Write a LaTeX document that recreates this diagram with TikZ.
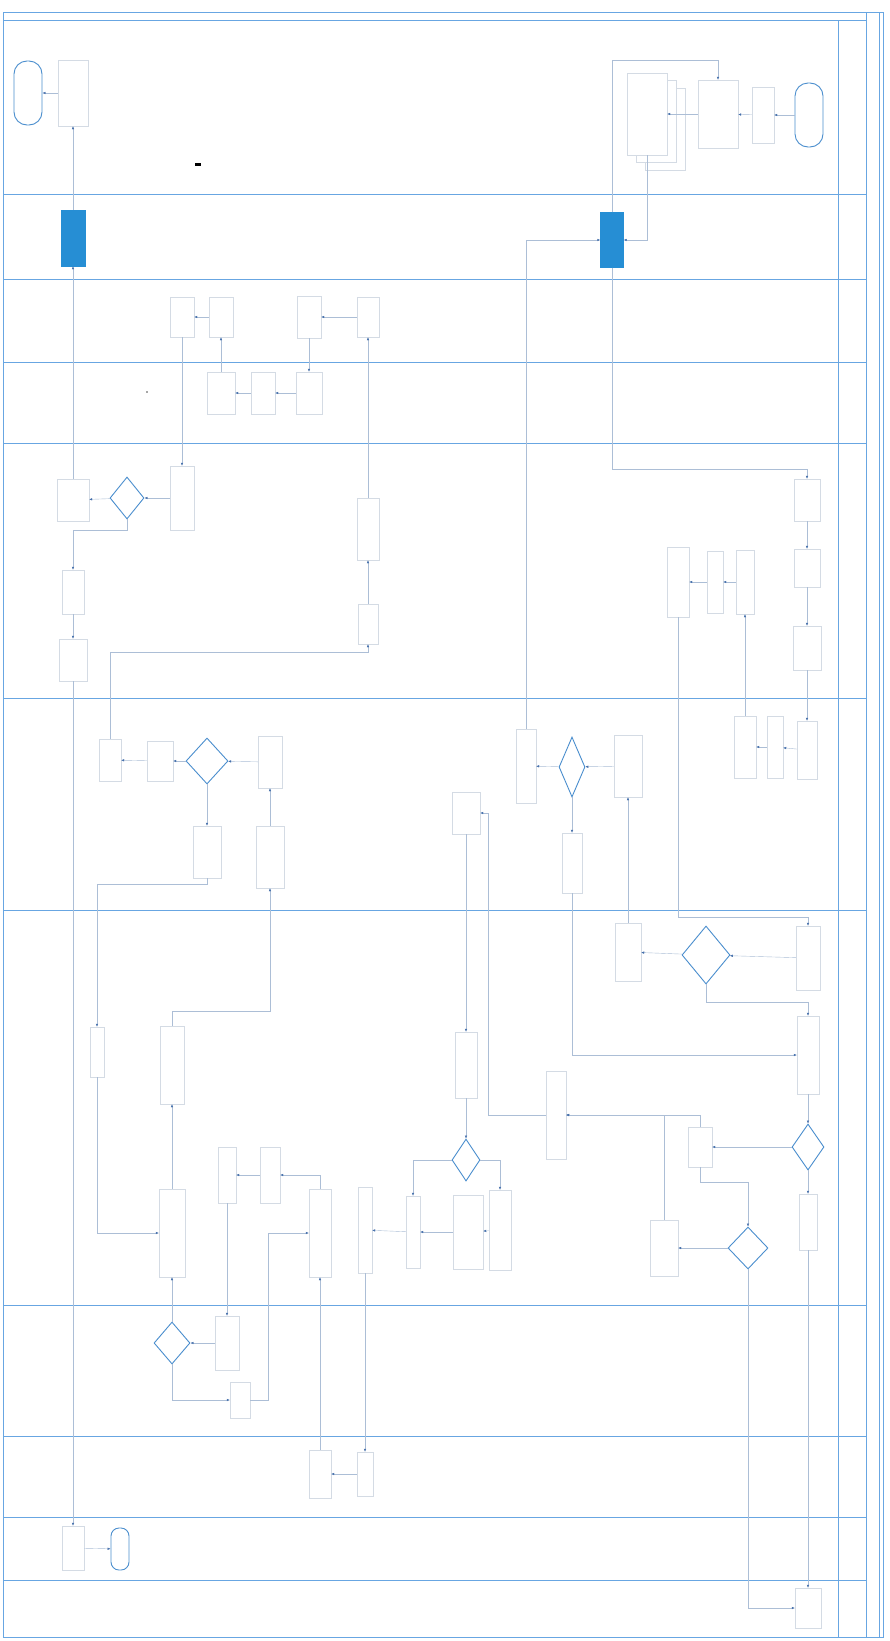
\documentclass[tikz,border=0pt]{standalone}
\usepackage{xcolor}
\usepackage{tikz}
\usetikzlibrary{shapes,arrows.meta,positioning,shadows}

\definecolor{lanebl}{RGB}{104,166,226}
\definecolor{linebl}{RGB}{172,190,214}
\definecolor{boxgr}{RGB}{212,219,228}
\definecolor{decbl}{RGB}{74,142,206}
\definecolor{fillbl}{RGB}{38,142,212}
\definecolor{tipbl}{RGB}{70,112,172}

\begin{document}
\begin{tikzpicture}[
    x=1pt, y=-1pt,
    box/.style={rectangle, draw=boxgr, line width=0.4pt, inner sep=0pt},
    bx/.style 2 args={box, minimum width=#1pt, minimum height=#2pt},
    dec/.style 2 args={diamond, draw=decbl, line width=0.9pt, inner sep=0pt, minimum width=#1pt, minimum height=#2pt},
    term/.style 2 args={rectangle, draw=decbl, line width=0.9pt, inner sep=0pt, minimum width=#1pt, minimum height=#2pt},
    blu/.style 2 args={rectangle, fill=fillbl, draw=fillbl, inner sep=0pt, minimum width=#1pt, minimum height=#2pt},
    link/.style={draw=linebl, line width=0.4pt, -{Latex[length=3pt,width=2.5pt,color=tipbl]}},
    lane/.style={draw=lanebl, line width=0.9pt}
]
    \useasboundingbox (0,0) rectangle (890,1641);
    \fill[white] (0,0) rectangle (890,1641);

    % frame and lanes
    \draw[lane] (3,12) rectangle (883,1637);
    \draw[lane] (3,20) -- (866,20);
    \draw[lane] (838,20) -- (838,1637);
    \draw[lane] (866,12) -- (866,1637);
    \draw[lanebl, line width=0.5pt] (879,12) -- (879,1637);
    \foreach \ly in {194,279,362,443,698,910,1305,1436,1517,1580}
        \draw[lane] (3,\ly) -- (866,\ly);

    % lane 1
    \node[term={28}{64}, rounded corners=13pt] (fin1) at (28,93) {};
    \node[bx={30}{66}] (fbox) at (73,93) {};
    \node[term={28}{64}, rounded corners=13pt] (inicio) at (809,115) {};
    \node[bx={22}{56}] (bB) at (763,115) {};
    \node[bx={40}{68}] (bA) at (718,114) {};
    \node[bx={40}{82}, fill=white, double copy shadow={shadow xshift=9pt, shadow yshift=-7.5pt, draw=boxgr, fill=white}] (doc) at (647,114) {};
    % lane 2
    \node[blu={24}{56}] (blue1) at (73,238) {};
    \node[blu={23}{55}] (blue2) at (612,240) {};
    % lane 3
    \node[bx={24}{40}] (n3a) at (182,317) {};
    \node[bx={24}{40}] (n3b) at (221,317) {};
    \node[bx={24}{42}] (n3c) at (309,317) {};
    \node[bx={22}{40}] (n3d) at (368,317) {};
    % lane 4
    \node[bx={28}{42}] (n4a) at (221,393) {};
    \node[bx={24}{42}] (n4b) at (263,393) {};
    \node[bx={26}{42}] (n4c) at (309,393) {};
    % lane 5
    \node[dec={34}{42}] (d5) at (127,498) {};
    \node[bx={24}{64}] (n5a) at (182,498) {};
    \node[bx={32}{42}] (n5b) at (73,500) {};
    \node[bx={22}{44}] (n5c) at (73,592) {};
    \node[bx={28}{42}] (n5d) at (73,660) {};
    \node[bx={22}{62}] (n5e) at (368,529) {};
    \node[bx={20}{40}] (n5f) at (368,624) {};
    \node[bx={26}{42}] (n5g) at (807,500) {};
    \node[bx={26}{38}] (n5h) at (807,568) {};
    \node[bx={28}{44}] (n5i) at (807,648) {};
    \node[bx={18}{64}] (n5j) at (745,582) {};
    \node[bx={16}{62}] (n5k) at (715,582) {};
    \node[bx={22}{70}] (n5l) at (678,582) {};
    % lane 6
    \node[bx={22}{42}] (n6a) at (110,760) {};
    \node[bx={26}{40}] (n6b) at (160,761) {};
    \node[dec={42}{46}] (d6a) at (207,761) {};
    \node[bx={24}{52}] (n6c) at (270,762) {};
    \node[bx={28}{52}] (n6d) at (207,852) {};
    \node[bx={28}{62}] (n6e) at (270,857) {};
    \node[bx={20}{74}] (n6f) at (526,766) {};
    \node[dec={26}{60}] (d6b) at (572,767) {};
    \node[bx={28}{62}] (n6g) at (628,766) {};
    \node[bx={28}{42}] (n6h) at (466,813) {};
    \node[bx={20}{60}] (n6i) at (572,863) {};
    \node[bx={22}{62}] (n6j) at (745,747) {};
    \node[bx={16}{62}] (n6k) at (775,747) {};
    \node[bx={20}{58}] (n6l) at (807,750) {};
    % lane 7
    \node[bx={14}{50}] (n7a) at (97,1052) {};
    \node[bx={24}{78}] (n7b) at (172,1065) {};
    \node[bx={26}{88}] (n7c) at (172,1233) {};
    \node[bx={18}{56}] (n7d) at (227,1175) {};
    \node[bx={20}{56}] (n7e) at (270,1175) {};
    \node[bx={22}{88}] (n7f) at (320,1233) {};
    \node[bx={14}{86}] (n7g) at (365,1230) {};
    \node[bx={14}{72}] (n7h) at (413,1232) {};
    \node[bx={30}{74}] (n7i) at (468,1232) {};
    \node[bx={22}{80}] (n7j) at (500,1230) {};
    \node[dec={28}{42}] (d7a) at (466,1160) {};
    \node[bx={22}{66}] (n7k) at (466,1065) {};
    \node[bx={20}{88}] (n7l) at (556,1115) {};
    \node[bx={26}{58}] (n7m) at (628,952) {};
    \node[dec={48}{58}] (d7b) at (706,955) {};
    \node[bx={24}{64}] (n7n) at (808,958) {};
    \node[bx={22}{78}] (n7o) at (808,1055) {};
    \node[dec={32}{46}] (d7c) at (808,1147) {};
    \node[bx={24}{40}] (n7p) at (700,1147) {};
    \node[bx={18}{56}] (n7q) at (808,1222) {};
    \node[dec={40}{42}] (d7d) at (748,1248) {};
    \node[bx={28}{56}] (n7r) at (664,1248) {};
    % lane 8
    \node[dec={36}{42}] (d8) at (172,1343) {};
    \node[bx={24}{54}] (n8a) at (227,1343) {};
    \node[bx={20}{36}] (n8b) at (240,1400) {};
    % lane 9
    \node[bx={22}{48}] (n9a) at (320,1474) {};
    \node[bx={16}{44}] (n9b) at (365,1474) {};
    % lane 10 and 11
    \node[bx={22}{44}] (n10) at (73,1548) {};
    \node[term={18}{42}, rounded corners=8pt] (fin2) at (120,1549) {};
    \node[bx={26}{40}] (n11) at (808,1608) {};

    % scan marks
    \fill[black] (195,163) rectangle (201,165.5);
    \fill[black!70] (147,392) circle (0.8);

    % connectors, left part
    \draw[link] (fbox) -- (fin1);
    \draw[link] (blue1) -- (fbox);
    \draw[link] (n5b) -- (blue1);
    \draw[link] (d5) -- (n5b);
    \draw[link] (n5a) -- (d5);
    \draw[link] (d5.south) -- ++(0,11) -| (n5c.north);
    \draw[link] (n5c) -- (n5d);
    \draw[link] (n5d) -- (n10);
    \draw[link] (n10) -- (fin2);
    \draw[link] (n3a) -- (n5a);
    \draw[link] (n3b) -- (n3a);
    \draw[link] (n4a) -- (n3b);
    \draw[link] (n4b) -- (n4a);
    \draw[link] (n4c) -- (n4b);
    \draw[link] (n3c) -- (n4c);
    \draw[link] (n3d) -- (n3c);
    \draw[link] (n5e) -- (n3d);
    \draw[link] (n5f) -- (n5e);
    \draw[link] (n6a.north) -- ++(0,-87) -| (n5f.south);
    \draw[link] (n6b) -- (n6a);
    \draw[link] (d6a) -- (n6b);
    \draw[link] (n6c) -- (d6a);
    \draw[link] (n6e) -- (n6c);
    \draw[link] (n7b.north) -- ++(0,-15) -| (n6e.south);
    \draw[link] (d6a) -- (n6d);
    \draw[link] (n6d.south) -- ++(0,6) -| (n7a.north);
    \draw[link] (n7a.south) |- (n7c.west);
    \draw[link] (n7c) -- (n7b);
    \draw[link] (d8) -- (n7c);
    \draw[link] (n8a) -- (d8);
    \draw[link] (n7d) -- (n8a);
    \draw[link] (n7e) -- (n7d);
    \draw[link] (n7f.north) |- (n7e.east);
    \draw[link] (d8.south) |- (n8b.west);
    \draw[link] (n8b.east) -- ++(18,0) |- (n7f.west);
    \draw[link] (n9a) -- (n7f);
    \draw[link] (n7g) -- (n9b);
    \draw[link] (n9b) -- (n9a);
    \draw[link] (n7h) -- (n7g);
    \draw[link] (n7i) -- (n7h);
    \draw[link] (n7j) -- (n7i);
    \draw[link] (d7a.west) -| (n7h.north);
    \draw[link] (d7a.east) -| (n7j.north);
    \draw[link] (n7k) -- (d7a);
    \draw[link] (n6h) -- (n7k);
    \draw[link] (n7l.west) -- ++(-58,0) |- (n6h.east);

    % connectors, right part
    \draw[link] (inicio) -- (bB);
    \draw[link] (bB) -- (bA);
    \draw[link] (bA) -- (doc);
    \draw[link] (doc.south) |- (blue2.east);
    \draw[link] (n6f.north) |- (blue2.west);
    \draw[link] (blue2.north) -- ++(0,-152) -| (bA.north);
    \draw[link] (blue2.south) -- ++(0,201) -| (n5g.north);
    \draw[link] (n5g) -- (n5h);
    \draw[link] (n5h) -- (n5i);
    \draw[link] (n5i) -- (n6l);
    \draw[link] (n6l) -- (n6k);
    \draw[link] (n6k) -- (n6j);
    \draw[link] (n6j) -- (n5j);
    \draw[link] (n5j) -- (n5k);
    \draw[link] (n5k) -- (n5l);
    \draw[link] (n5l.south) -- ++(0,300) -| (n7n.north);
    \draw[link] (d6b) -- (n6f);
    \draw[link] (n6g) -- (d6b);
    \draw[link] (n7m) -- (n6g);
    \draw[link] (d6b) -- (n6i);
    \draw[link] (n6i.south) |- (n7o.west);
    \draw[link] (n7n) -- (d7b);
    \draw[link] (d7b) -- (n7m);
    \draw[link] (d7b.south) -- ++(0,18) -| (n7o.north);
    \draw[link] (n7o) -- (d7c);
    \draw[link] (d7c) -- (n7p);
    \draw[link] (d7c) -- (n7q);
    \draw[link] (n7p.north) |- (n7l.east);
    \draw[link] (n7p.south) -- ++(0,15) -| (d7d.north);
    \draw[link] (d7d) -- (n7r);
    \draw[link] (n7r.north) |- (n7l.east);
    \draw[link] (d7d.south) |- (n11.west);
    \draw[link] (n7q) -- (n11);
\end{tikzpicture}
\end{document}
